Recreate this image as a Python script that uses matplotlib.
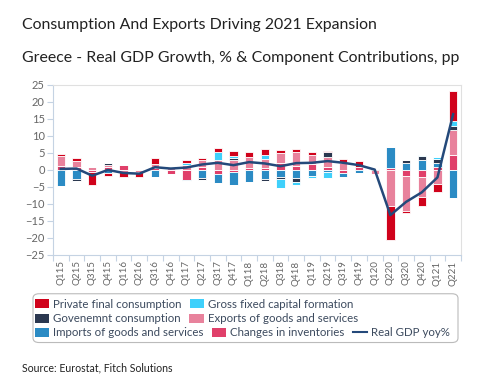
import matplotlib
matplotlib.use("Agg")
import matplotlib.pyplot as plt
import numpy as np
from matplotlib.patches import Patch, FancyBboxPatch
from matplotlib.lines import Line2D

categories = ["Q115", "Q215", "Q315", "Q415", "Q116", "Q216", "Q316", "Q416",
              "Q117", "Q217", "Q317", "Q417", "Q118", "Q218", "Q318", "Q418",
              "Q119", "Q219", "Q319", "Q419", "Q120", "Q220", "Q320", "Q420",
              "Q121", "Q221"]

private = [0.5, 0.8, -3.8, -1.0, -1.5, -1.4, 1.8, 0.0, 0.8, 0.8, 1.1, 1.5, 1.5,
           1.8, 0.8, 0.8, 1.0, 0.5, 1.2, 1.5, 0.0, -10.0, -0.6, -2.4, -2.3, 8.8]
gfcf = [0.0, 0.0, 0.0, 0.0, 0.0, 0.0, 0.0, 0.4, 0.6, 0.0, 2.4, 0.7, 0.0,
        1.4, -2.5, -0.8, -0.6, -1.6, 0.0, 0.0, 0.0, 0.0, 0.0, 0.4, 0.7, 1.5]
government = [0.0, -0.6, 0.0, 0.5, 0.0, 0.0, 0.0, 0.0, 0.0, -0.6, 0.0, 0.6, 0.0,
              -0.8, -0.6, -1.1, 0.0, 1.3, 0.0, 0.0, 0.3, 0.0, 0.8, 1.2, 1.0, 1.1]
exports = [2.9, 1.7, 1.0, 0.5, -0.6, -0.7, 1.1, 0.8, 1.5, 2.0, 3.0, 2.8, 3.3,
           2.6, 3.0, 4.2, 2.7, 2.9, 2.1, 0.0, -1.1, -10.7, -10.3, -6.0, -4.1, 7.5]
imports = [-4.6, -2.6, 0.0, -0.9, 0.0, 0.0, -2.0, 0.0, -0.3, -2.4, -2.6, -3.6, -3.6,
           -2.6, -2.2, -2.5, -1.9, -0.7, -1.1, -0.8, 0.0, 6.1, 2.1, 2.8, 1.1, -8.2]
inventories = [1.3, 1.0, -0.7, 1.0, 1.5, 0.0, 0.6, -1.3, -3.0, 0.8, -1.3, -0.7, 0.5,
               0.5, 2.1, 1.2, 1.7, 1.0, -0.9, 1.0, 0.0, 0.7, -1.9, -2.1, 1.0, 4.3]
gdp_yoy = [0.3, 0.4, -1.7, 0.0, -0.9, -1.1, 0.8, 0.4, 0.7, 1.6, 2.1, 1.4, 2.3,
           1.9, 1.1, 2.0, 2.1, 2.6, 2.1, 1.4, 0.1, -13.3, -9.4, -6.6, -2.2, 16.4]

series_names = ["Private final consumption", "Gross fixed capital formation",
                "Govenemnt consumption", "Exports of goods and services",
                "Imports of goods and services", "Changes in inventories"]
line_name = "Real GDP yoy%"
series_vals = [private, gfcf, government, exports, imports, inventories]
colors = ["#d0021b", "#3fd0fb", "#2b3850", "#e8829c", "#2b8bc4", "#e0406a"]
line_color = "#24497a"

fig = plt.figure(figsize=(5.0, 3.81), dpi=100)
ax = fig.add_axes([0.106, 0.331, 0.816, 0.446])

x = np.arange(len(categories))
pos_base = np.zeros(len(categories))
neg_base = np.zeros(len(categories))
# stacking from zero outward: last series nearest to zero
for idx in [5, 4, 3, 2, 1, 0]:
    v = np.array(series_vals[idx], dtype=float)
    pos = np.where(v > 0, v, 0)
    neg = np.where(v < 0, v, 0)
    ax.bar(x, pos, bottom=pos_base, width=0.53, color=colors[idx],
           edgecolor="white", linewidth=0.6, zorder=2)
    ax.bar(x, neg, bottom=neg_base, width=0.53, color=colors[idx],
           edgecolor="white", linewidth=0.6, zorder=2)
    pos_base += pos
    neg_base += neg

ax.plot(x, gdp_yoy, color=line_color, linewidth=1.8, zorder=3)

ax.set_xlim(-0.5, len(categories) - 0.5)
ax.set_ylim(-25, 25)
ax.set_yticks(np.arange(-25, 26, 5))
ax.set_xticks(x)
ax.set_xticklabels(categories, rotation=90, fontsize=7, color="#666666",
                   family="Lato")
ax.set_xticks(np.arange(-0.5, len(categories), 1), minor=True)
ax.tick_params(axis="x", which="major", length=0, pad=4)
ax.tick_params(axis="x", which="minor", length=4, color="#c5d3e3", width=0.8)
ax.tick_params(axis="y", length=4, color="#c5d3e3", width=0.8,
               labelsize=8, labelcolor="#666666", pad=2)
for lab in ax.get_yticklabels():
    lab.set_family("Lato")

for side in ["top", "right"]:
    ax.spines[side].set_color("#e0e0e0")
    ax.spines[side].set_linewidth(0.8)
for side in ["left", "bottom"]:
    ax.spines[side].set_color("#c5d3e3")
    ax.spines[side].set_linewidth(0.8)

fig.text(0.044, 0.935, "Consumption And Exports Driving 2021 Expansion",
         fontsize=11.4, family="Lato", color="#222222", va="center")
fig.text(0.044, 0.848, "Greece - Real GDP Growth, % & Component Contributions, pp",
         fontsize=11.4, family="Lato", color="#222222", va="center")

# legend frame
frame = FancyBboxPatch((0.066, 0.101), 0.850, 0.128,
                       boxstyle="round,pad=0,rounding_size=0.012",
                       transform=fig.transFigure, facecolor="white",
                       edgecolor="#bbbbbb", linewidth=0.8, zorder=0)
fig.patches.append(frame)

rows = [
    ([Patch(facecolor=colors[0]), Patch(facecolor=colors[1])],
     [series_names[0], series_names[1]], 0.202),
    ([Patch(facecolor=colors[2]), Patch(facecolor=colors[3])],
     [series_names[2], series_names[3]], 0.163),
    ([Patch(facecolor=colors[4]), Patch(facecolor=colors[5]),
      Line2D([0], [0], color=line_color, linewidth=1.5)],
     [series_names[4], series_names[5], line_name], 0.126),
]
for hs, ls, yc in rows:
    fig.legend(hs, ls, ncol=len(hs), loc="center left",
               bbox_to_anchor=(0.070, yc), frameon=False,
               prop={"family": "Lato", "size": 8.3}, labelcolor="#3c4a5e",
               handlelength=1.25, handleheight=0.9, handletextpad=0.35,
               columnspacing=0.7, borderpad=0, borderaxespad=0)

fig.text(0.044, 0.035, "Source: Eurostat, Fitch Solutions", fontsize=7.6,
         family="Lato", color="#222222", va="center")

fig.savefig("out.png", dpi=100)
